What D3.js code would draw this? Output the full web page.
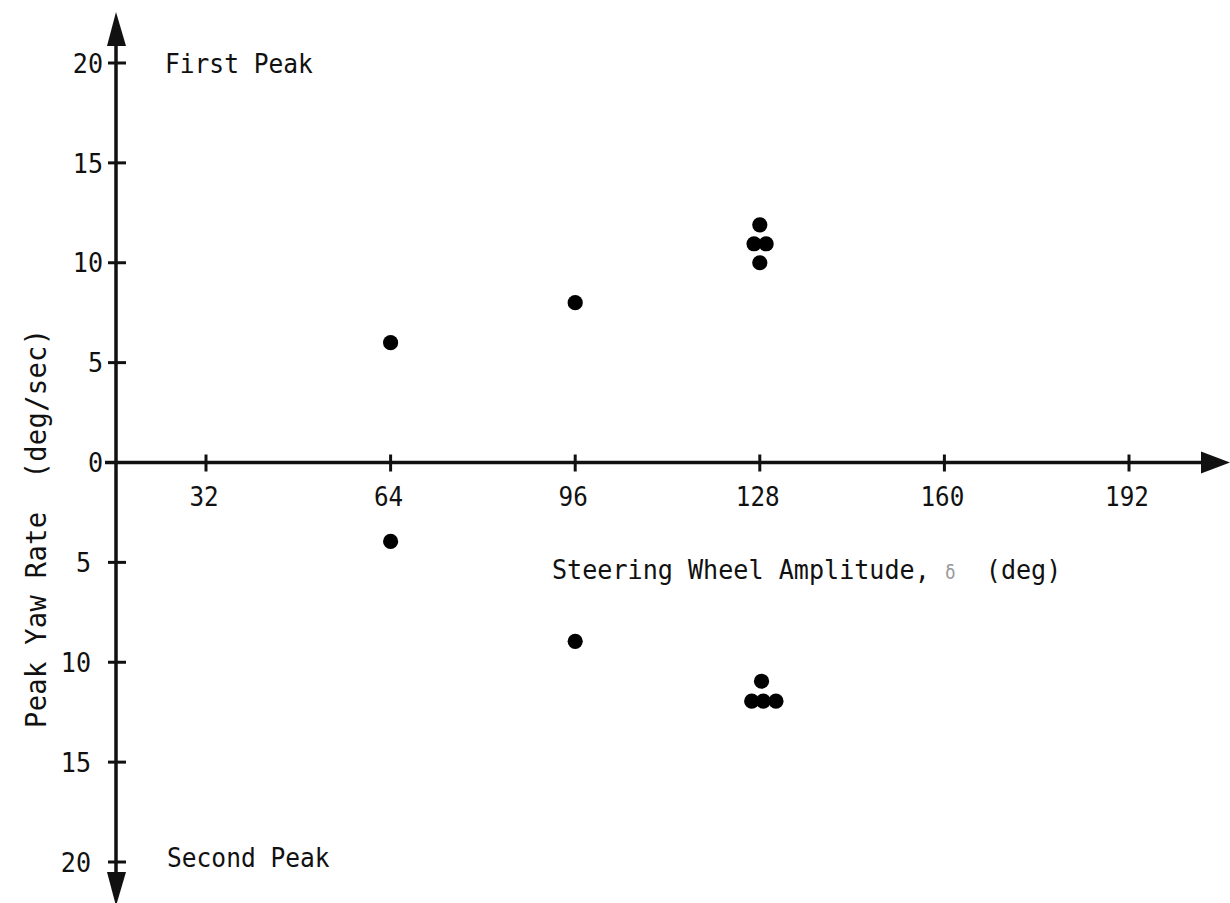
<!DOCTYPE html>
<html>
<head>
<meta charset="utf-8">
<script src="https://cdn.jsdelivr.net/npm/d3@7"></script>
<style>
  body { margin: 0; background: #fff; }
  svg { display: block; font-family: "DejaVu Sans Mono", monospace; }
  text { white-space: pre; }
</style>
</head>
<body>
<div id="paper"></div>
<script>
// ticks along the steering wheel axis (deg)
const xTicks = [32, 64, 96, 128, 160, 192];
// yaw rate ticks; positive = first peak, negative = second peak
const yTicks = [20, 15, 10, 5, 0, -5, -10, -15, -20];

// first peak (above axis)
const firstPeakX = [64, 96, 128, 127, 129.1, 128];
const firstPeakY = [6, 8, 11.9, 10.95, 10.95, 10];
// second peak (below axis, stored negative)
const secondPeakX = [64, 96, 128.3, 126.6, 128.6, 130.8];
const secondPeakY = [-3.95, -8.95, -10.95, -11.95, -11.95, -11.95];

const width = 1230, height = 903;
const axisX = 116; // where the vertical axis sits

const svg = d3.select("#paper").append("svg")
  .attr("width", width)
  .attr("height", height);

const x = d3.scaleLinear().domain([32, 192]).range([206, 1129]);
const y = d3.scaleLinear().domain([-20, 20]).range([862, 63]);
const y0 = y(0);

const ink = "#111";

// typed text is tall and narrow, squeeze mono a bit
let label = (tx, ty, size, sx) => svg.append("text")
  .attr("transform", `translate(${tx},${ty}) scale(${sx},1)`)
  .attr("font-size", size)
  .attr("fill", ink);

// main axes
svg.append("line")
  .attr("x1", axisX).attr("x2", axisX)
  .attr("y1", 40).attr("y2", 878)
  .attr("stroke", ink).attr("stroke-width", 3.5);

svg.append("line")
  .attr("x1", 105).attr("x2", 1206)
  .attr("y1", y0).attr("y2", y0)
  .attr("stroke", ink).attr("stroke-width", 3.5);

// arrowheads
svg.append("path")
  .attr("d", `M${axisX},12 L${axisX - 9},46 L${axisX + 10},46 Z`)
  .attr("fill", ink);
svg.append("path")
  .attr("d", `M${axisX},906 L${axisX - 9},872 L${axisX + 10},872 Z`)
  .attr("fill", ink);
svg.append("path")
  .attr("d", `M1230,${y0} L1201,${y0 - 11} L1201,${y0 + 11} Z`)
  .attr("fill", ink);

// y ticks & labels
svg.append("g").selectAll("line")
  .data(yTicks)
  .join("line")
  .attr("x1", axisX - 8).attr("x2", axisX + 10)
  .attr("y1", d => y(d)).attr("y2", d => y(d))
  .attr("stroke", ink).attr("stroke-width", 3);

svg.append("g").selectAll("text")
  .data(yTicks)
  .join("text")
  .attr("transform", d => `translate(${d >= 0 ? 103 : 91},${y(d)}) scale(0.93,1)`)
  .attr("dy", "0.36em")
  .attr("text-anchor", "end")
  .attr("font-size", 27)
  .attr("fill", ink)
  .text(d => Math.abs(d));

// x ticks & labels
svg.append("g").selectAll("line")
  .data(xTicks)
  .join("line")
  .attr("x1", d => x(d)).attr("x2", d => x(d))
  .attr("y1", y0 - 8).attr("y2", y0 + 9)
  .attr("stroke", ink).attr("stroke-width", 3);

svg.append("g").selectAll("text")
  .data(xTicks)
  .join("text")
  .attr("transform", d => `translate(${x(d) - 2},${y0 + 43}) scale(0.9,1)`)
  .attr("text-anchor", "middle")
  .attr("font-size", 27)
  .attr("fill", ink)
  .text(d => d);

// points
const pts = [
  ...firstPeakX.map((v, i) => [v, firstPeakY[i]]),
  ...secondPeakX.map((v, i) => [v, secondPeakY[i]])
];
svg.append("g").selectAll("circle")
  .data(pts)
  .join("circle")
  .attr("cx", d => x(d[0]))
  .attr("cy", d => y(d[1]))
  .attr("r", 7.6)
  .attr("fill", "#000");

// annotations
label(165, 73, 27, 0.91).text("First Peak");
label(167, 867, 27, 0.91).text("Second Peak");

// x axis title, delta drawn faint like the scan
const xt = label(552, 579, 27, 0.93);
xt.append("tspan").text("Steering Wheel Amplitude, ");
xt.append("tspan").attr("fill", "#999").attr("font-size", 19).text("δ");
xt.append("tspan").text("  (deg)");

// y axis title
svg.append("text")
  .attr("transform", "translate(46,728) rotate(-90) scale(0.97,1)")
  .attr("font-size", 28).attr("fill", ink)
  .attr("letter-spacing", 0.3)
  .text("Peak Yaw Rate  (deg/sec)");
</script>
</body>
</html>
